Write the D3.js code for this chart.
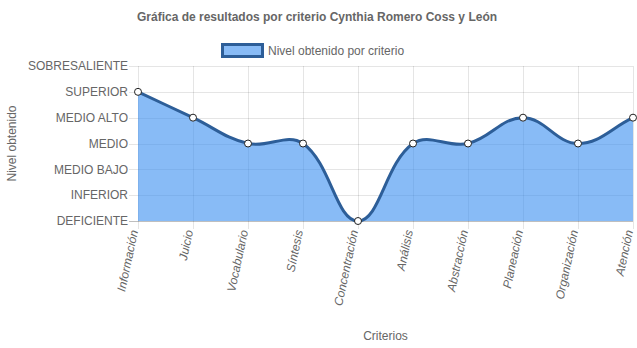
<!DOCTYPE html>
<html>
<head>
<meta charset="utf-8">
<script src="https://cdn.jsdelivr.net/npm/d3@7"></script>
<style>
  html, body { margin: 0; padding: 0; background: #fff; }
  svg { display: block; font-family: "Liberation Sans", Arial, Helvetica, sans-serif; }
</style>
</head>
<body>
<svg id="chart" width="637" height="348"></svg>
<script>
// Criteria along the x axis
const criterios = ["Información", "Juicio", "Vocabulario", "Síntesis", "Concentración",
  "Análisis", "Abstracción", "Planeación", "Organización", "Atención"];
// Level names, lowest to highest
const niveles = ["DEFICIENTE", "INFERIOR", "MEDIO BAJO", "MEDIO", "MEDIO ALTO", "SUPERIOR", "SOBRESALIENTE"];
// Level reached per criterion (index into niveles)
const valores = [5, 4, 3, 3, 0, 3, 3, 4, 3, 4];

const titulo = "Gráfica de resultados por criterio Cynthia Romero Coss y León";
const leyenda = "Nivel obtenido por criterio";
const tituloX = "Criterios";
const tituloY = "Nivel obtenido";

const lineColor = "#2d5e98";
const fillColor = "rgba(57,142,240,0.6)";
const gridColor = "rgba(0,0,0,0.1)";
const textColor = "#666";

const svg = d3.select("#chart");
const area = { left: 138, right: 633, top: 66, bottom: 221 };

const x = d3.scalePoint().domain(criterios).range([area.left, area.right]);
const y = d3.scaleLinear().domain([0, niveles.length - 1]).range([area.bottom, area.top]);

// Spline through points using neighbour-distance weighted tangents (tension 0.4)
function splineCurve(tension) {
  return function (context) {
    let pts = [], line = NaN;
    function flush() {
      const n = pts.length;
      if (!n) return;
      const cp = pts.map((p, i) => {
        const prev = pts[i - 1] || p, next = pts[i + 1] || p;
        const d01 = Math.hypot(p[0] - prev[0], p[1] - prev[1]);
        const d12 = Math.hypot(next[0] - p[0], next[1] - p[1]);
        let s01 = d01 / (d01 + d12), s12 = d12 / (d01 + d12);
        if (isNaN(s01)) s01 = 0;
        if (isNaN(s12)) s12 = 0;
        const fa = tension * s01, fb = tension * s12;
        const clampY = v => Math.max(area.top, Math.min(area.bottom, v));
        return {
          px: p[0] - fa * (next[0] - prev[0]), py: clampY(p[1] - fa * (next[1] - prev[1])),
          nx: p[0] + fb * (next[0] - prev[0]), ny: clampY(p[1] + fb * (next[1] - prev[1]))
        };
      });
      if (line) context.lineTo(pts[0][0], pts[0][1]);
      else context.moveTo(pts[0][0], pts[0][1]);
      for (let i = 1; i < n; i++) {
        context.bezierCurveTo(cp[i - 1].nx, cp[i - 1].ny, cp[i].px, cp[i].py, pts[i][0], pts[i][1]);
      }
    }
    return {
      areaStart() { line = 0; },
      areaEnd() { line = NaN; },
      lineStart() { pts = []; },
      lineEnd() {
        flush();
        if (line || (line !== 0 && pts.length === 1)) context.closePath();
        line = 1 - line;
      },
      point(px, py) { pts.push([+px, +py]); }
    };
  };
}
const curve = splineCurve(0.4);

// Grid lines (with tick extensions)
const grid = svg.append("g");
grid.selectAll(".hg").data(niveles).enter().append("line")
  .attr("x1", area.left - 9).attr("x2", area.right)
  .attr("y1", (d, i) => Math.round(y(i)) + 0.5).attr("y2", (d, i) => Math.round(y(i)) + 0.5)
  .attr("stroke", (d, i) => i === 0 ? "rgba(0,0,0,0.25)" : gridColor).attr("stroke-width", 1);
grid.selectAll(".vg").data(criterios).enter().append("line")
  .attr("x1", d => Math.round(x(d)) + 0.5).attr("x2", d => Math.round(x(d)) + 0.5)
  .attr("y1", area.top).attr("y2", area.bottom + 8)
  .attr("stroke", gridColor).attr("stroke-width", 1);

// Y tick labels
svg.append("g").selectAll("text").data(niveles).enter().append("text")
  .attr("x", area.left - 10).attr("y", (d, i) => y(i)).attr("dy", "0.35em")
  .attr("text-anchor", "end").attr("font-size", 12).attr("fill", textColor)
  .text(d => d);

// X tick labels, rotated
svg.append("g").selectAll("text").data(criterios).enter().append("text")
  .attr("transform", d => `translate(${x(d) - 4},${area.bottom + 9}) rotate(-78)`)
  .attr("text-anchor", "end").attr("dy", "0.35em").attr("font-size", 12).attr("font-style", "italic")
  .attr("fill", textColor).text(d => d);

// Filled area and line
const data = valores.map((v, i) => ({ c: criterios[i], v }));
svg.append("path").datum(data)
  .attr("d", d3.area().x(d => x(d.c)).y0(area.bottom).y1(d => y(d.v)).curve(curve))
  .attr("fill", fillColor);
svg.append("path").datum(data)
  .attr("d", d3.line().x(d => x(d.c)).y(d => y(d.v)).curve(curve))
  .attr("fill", "none").attr("stroke", lineColor).attr("stroke-width", 3);
svg.append("g").selectAll("circle").data(data).enter().append("circle")
  .attr("cx", d => x(d.c)).attr("cy", d => y(d.v)).attr("r", 3.5)
  .attr("fill", "#fff").attr("stroke", "#222").attr("stroke-width", 1);

// Title
svg.append("text").attr("x", 317).attr("y", 21).attr("text-anchor", "middle")
  .attr("font-size", 12).attr("font-weight", "bold").attr("fill", textColor).text(titulo);

// Legend
svg.append("rect").attr("x", 222.5).attr("y", 44.5).attr("width", 40).attr("height", 12)
  .attr("fill", "#88bbf6").attr("stroke", lineColor).attr("stroke-width", 3);
svg.append("text").attr("x", 268).attr("y", 50.5).attr("dy", "0.35em")
  .attr("font-size", 12).attr("fill", textColor).text(leyenda);

// Axis titles
svg.append("text").attr("x", (area.left + area.right) / 2).attr("y", 340)
  .attr("text-anchor", "middle").attr("font-size", 12).attr("fill", textColor).text(tituloX);
svg.append("text").attr("transform", `translate(16,${(area.top + area.bottom) / 2}) rotate(-90)`)
  .attr("text-anchor", "middle").attr("font-size", 12).attr("fill", textColor).text(tituloY);
</script>
</body>
</html>
